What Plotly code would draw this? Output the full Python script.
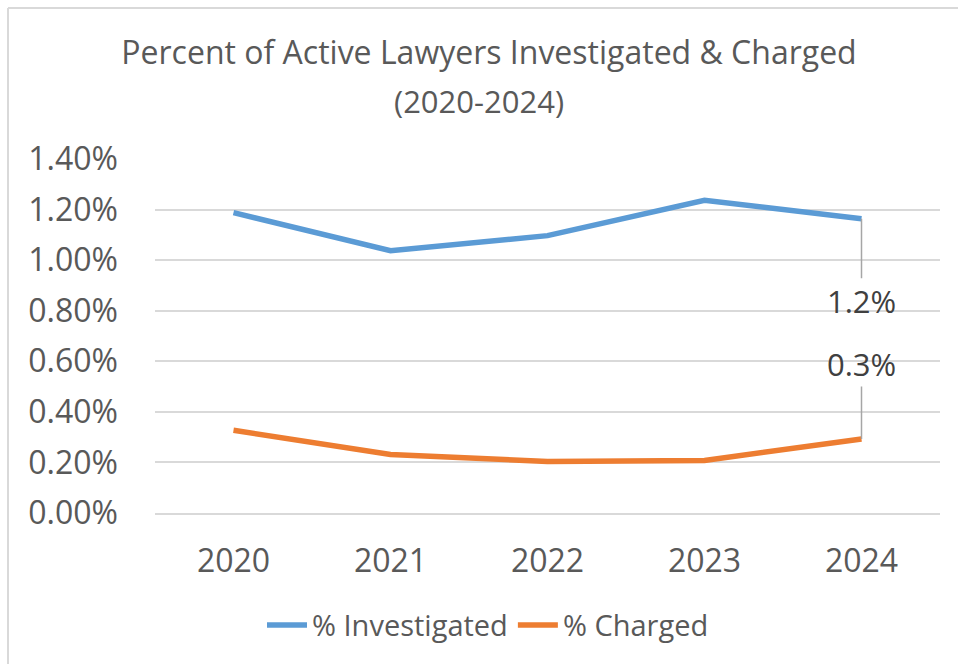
import plotly.graph_objects as go

years = ["2020", "2021", "2022", "2023", "2024"]
pct_investigated = [1.188, 1.037, 1.097, 1.237, 1.164]
pct_charged = [0.327, 0.231, 0.204, 0.208, 0.293]
y_ticks = [0.0, 0.2, 0.4, 0.6, 0.8, 1.0, 1.2, 1.4]

FONT = "Open Sans"
TXT = "#595959"
BLUE = "#5b9bd5"
ORANGE = "#ed7d31"

W, H = 958, 664
L, R, T, B = 155, 18, 158.5, 150.5
PH = H - T - B
PW = W - L - R

fig = go.Figure()
fig.add_trace(go.Scatter(x=years, y=pct_investigated, mode="lines", name="% Investigated",
                         line=dict(color=BLUE, width=5.5)))
fig.add_trace(go.Scatter(x=years, y=pct_charged, mode="lines", name="% Charged",
                         line=dict(color=ORANGE, width=5.5)))

def py(pix):
    return (H - B - pix) / PH

def px(pix):
    return (pix - L) / PW

last = len(years) - 1

annotations = [
    dict(text="(2020-2024)", xref="paper", yref="paper", x=px(479), y=py(100),
         xanchor="center", yanchor="middle", showarrow=False,
         font=dict(family=FONT, size=31, color=TXT)),
    dict(x=last, y=pct_investigated[last], xref="x", yref="y",
         text=f"{pct_investigated[last]:.1f}%", showarrow=True, arrowhead=0,
         arrowcolor="#a6a6a6", arrowwidth=1.5, ax=0, ay=82,
         font=dict(family=FONT, size=31, color="#404040")),
    dict(x=last, y=pct_charged[last], xref="x", yref="y",
         text=f"{pct_charged[last]:.1f}%", showarrow=True, arrowhead=0,
         arrowcolor="#a6a6a6", arrowwidth=1.5, ax=0, ay=-75,
         font=dict(family=FONT, size=31, color="#404040")),
]

shapes = [
    dict(type="line", xref="paper", yref="paper", x0=px(8), x1=px(8), y0=py(7), y1=py(700),
         line=dict(color="#d9d9d9", width=2)),
    dict(type="line", xref="paper", yref="paper", x0=px(8), x1=px(1000), y0=py(7), y1=py(7),
         line=dict(color="#d9d9d9", width=2)),
]

fig.update_layout(
    width=W, height=H,
    margin=dict(l=L, r=R, t=T, b=B, autoexpand=False),
    paper_bgcolor="white", plot_bgcolor="white",
    title=dict(text="Percent of Active Lawyers Investigated & Charged",
               x=px(489), xref="paper", xanchor="center",
               y=1 - 53 / H, yref="container", yanchor="middle",
               font=dict(family=FONT, size=32, color=TXT)),
    font=dict(family=FONT, color=TXT),
    showlegend=True,
    legend=dict(orientation="h", x=px(488), y=py(626), xanchor="center", yanchor="middle",
                font=dict(family=FONT, size=29, color=TXT), itemwidth=40,
                bgcolor="rgba(0,0,0,0)"),
    xaxis=dict(type="category", range=[-0.5, 4.5], showgrid=False, showline=True,
               linecolor="#d9d9d9", linewidth=1.5, ticks="", ticklabelstandoff=19,
               tickfont=dict(family=FONT, size=32, color=TXT), fixedrange=True),
    yaxis=dict(range=[0, 1.4], tickvals=y_ticks, ticktext=[f"{v:.2f}%" for v in y_ticks],
               showgrid=True, gridcolor="#d9d9d9", gridwidth=1.5, zeroline=False,
               showline=False, ticks="", ticklabelstandoff=36,
               tickfont=dict(family=FONT, size=32, color=TXT)),
    annotations=annotations,
    shapes=shapes,
)

fig.write_html("out.html", config={"displayModeBar": False},
               post_script="document.body.style.margin='0';document.body.style.overflow='hidden';"
                           "document.documentElement.style.overflow='hidden';")
